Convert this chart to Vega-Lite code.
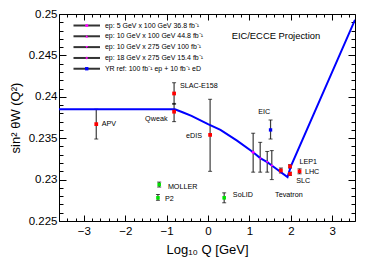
{
  "$schema": "https://vega.github.io/schema/vega-lite/v6.json",
  "width": 296,
  "height": 207,
  "autosize": {"type": "none"},
  "padding": {"left": 59, "top": 14, "right": 19, "bottom": 44},
  "background": "white",
  "config": {
    "font": "Liberation Sans",
    "view": {"stroke": "black", "strokeWidth": 1},
    "axis": {"domain": false, "grid": false, "tickColor": "black", "labelColor": "black", "titleColor": "black", "labelFont": "Liberation Sans", "titleFont": "Liberation Sans", "titleFontWeight": "normal", "labelOverlap": false, "labelFlush": false}
  },
  "datasets": {
    "curve": [
      {"lq": -3.6, "s2w": 0.2385}, {"lq": -0.8, "s2w": 0.2385}, {"lq": -0.6, "s2w": 0.2381},
      {"lq": -0.4, "s2w": 0.2377}, {"lq": 0.0, "s2w": 0.2367}, {"lq": 0.3, "s2w": 0.2360},
      {"lq": 0.7, "s2w": 0.2347}, {"lq": 1.09, "s2w": 0.2333}, {"lq": 1.26, "s2w": 0.2326},
      {"lq": 1.43, "s2w": 0.2321}, {"lq": 1.54, "s2w": 0.2317}, {"lq": 1.92, "s2w": 0.2303},
      {"lq": 2.0, "s2w": 0.2316}, {"lq": 3.55, "s2w": 0.2493}
    ],
    "points": [
      {"name": "APV", "group": "world", "lq": -2.70, "s2w": 0.2367, "lo": 0.2349, "hi": 0.2385},
      {"name": "Qweak", "group": "world", "lq": -0.82, "s2w": 0.2382, "lo": 0.2370, "hi": 0.2392},
      {"name": "SLAC-E158", "group": "world", "lq": -0.82, "s2w": 0.2404, "lo": 0.2391, "hi": 0.2417},
      {"name": "eDIS", "group": "world", "lq": 0.05, "s2w": 0.2354, "lo": 0.2310, "hi": 0.2397},
      {"name": "Tevatron", "group": "world", "lq": 1.76, "s2w": 0.2311, "lo": 0.2308, "hi": 0.2314},
      {"name": "LEP1", "group": "world", "lq": 1.98, "s2w": 0.2316, "lo": 0.2314, "hi": 0.2318},
      {"name": "SLC", "group": "world", "lq": 1.98, "s2w": 0.2307, "lo": 0.2305, "hi": 0.2309},
      {"name": "LHC", "group": "world", "lq": 2.21, "s2w": 0.2310, "lo": 0.2307, "hi": 0.2313},
      {"name": "MOLLER", "group": "future", "lq": -1.18, "s2w": 0.2294, "lo": 0.2291, "hi": 0.2297},
      {"name": "P2", "group": "future", "lq": -1.21, "s2w": 0.2278, "lo": 0.2275, "hi": 0.2282},
      {"name": "SoLID", "group": "future", "lq": 0.39, "s2w": 0.2278, "lo": 0.2272, "hi": 0.2284},
      {"name": "EIC YR", "group": "YR", "lq": 1.51, "s2w": 0.2360, "lo": 0.2349, "hi": 0.2372},
      {"name": "5x100", "group": "ep5x100", "lq": 1.09, "s2w": 0.2333, "lo": 0.2309, "hi": 0.2356},
      {"name": "10x100", "group": "ep10x100", "lq": 1.26, "s2w": 0.2326, "lo": 0.2309, "hi": 0.2345},
      {"name": "10x275", "group": "ep10x275", "lq": 1.43, "s2w": 0.2321, "lo": 0.2309, "hi": 0.2334},
      {"name": "18x275", "group": "ep18x275", "lq": 1.54, "s2w": 0.2317, "lo": 0.2300, "hi": 0.2335}
    ],
    "labels": [
      {"text": "APV", "lq": -2.57, "s2w": 0.23671},
      {"text": "Qweak", "lq": -1.52, "s2w": 0.23728},
      {"text": "SLAC-E158", "lq": -0.68, "s2w": 0.24130},
      {"text": "eDIS", "lq": -0.53, "s2w": 0.23527},
      {"text": "EIC", "lq": 1.21, "s2w": 0.23816},
      {"text": "MOLLER", "lq": -0.97, "s2w": 0.22914},
      {"text": "P2", "lq": -1.04, "s2w": 0.22766},
      {"text": "SoLID", "lq": 0.60, "s2w": 0.22814},
      {"text": "Tevatron", "lq": 1.62, "s2w": 0.22814},
      {"text": "LEP1", "lq": 2.21, "s2w": 0.23216},
      {"text": "LHC", "lq": 2.34, "s2w": 0.23095},
      {"text": "SLC", "lq": 2.13, "s2w": 0.22987}
    ],
    "legend": [
      {"group": "ep5x100", "label": "ep: 5 GeV x 100 GeV 36.8 fb⁻¹", "ly": 0.24861},
      {"group": "ep10x100", "label": "ep: 10 GeV x 100 GeV 44.8 fb⁻¹", "ly": 0.24731},
      {"group": "ep10x275", "label": "ep: 10 GeV x 275 GeV 100 fb⁻¹", "ly": 0.24600},
      {"group": "ep18x275", "label": "ep: 18 GeV x 275 GeV 15.4 fb⁻¹", "ly": 0.24469},
      {"group": "YR", "label": "YR ref: 100 fb⁻¹ ep + 10 fb⁻¹ eD", "ly": 0.24339}
    ]
  },
  "layer": [
    {
      "data": {"name": "points"},
      "mark": {"type": "rule", "color": "#3c3c3c", "strokeWidth": 1.2},
      "encoding": {
        "x": {"field": "lq", "type": "quantitative", "scale": {"domain": [-3.6, 3.55], "nice": false, "zero": false},
          "axis": {"orient": "top", "labels": false, "title": null,
            "values": [-3.6,-3.4,-3.2,-3,-2.8,-2.6,-2.4,-2.2,-2,-1.8,-1.6,-1.4,-1.2,-1,-0.8,-0.6,-0.4,-0.2,0,0.2,0.4,0.6,0.8,1,1.2,1.4,1.6,1.8,2,2.2,2.4,2.6,2.8,3,3.2,3.4],
            "tickSize": {"condition": {"test": "abs(datum.value - round(datum.value)) < 0.01", "value": -6}, "value": -3}}},
        "y": {"field": "lo", "type": "quantitative", "scale": {"domain": [0.225, 0.25], "nice": false, "zero": false},
          "axis": {"orient": "right", "labels": false, "title": null,
            "values": [0.225,0.226,0.227,0.228,0.229,0.23,0.231,0.232,0.233,0.234,0.235,0.236,0.237,0.238,0.239,0.24,0.241,0.242,0.243,0.244,0.245,0.246,0.247,0.248,0.249,0.25],
            "tickSize": {"condition": {"test": "abs(datum.value*200 - round(datum.value*200)) < 0.01", "value": -7}, "value": -4}}},
        "y2": {"field": "hi"}
      }
    },
    {
      "data": {"name": "points"},
      "mark": {"type": "tick", "orient": "horizontal", "size": 4, "thickness": 1, "color": "black"},
      "encoding": {
        "x": {"field": "lq", "type": "quantitative", "axis": null},
        "y": {"field": "lo", "type": "quantitative", "axis": null}
      }
    },
    {
      "data": {"name": "points"},
      "mark": {"type": "tick", "orient": "horizontal", "size": 4, "thickness": 1, "color": "black"},
      "encoding": {
        "x": {"field": "lq", "type": "quantitative", "axis": null},
        "y": {"field": "hi", "type": "quantitative", "axis": null}
      }
    },
    {
      "data": {"name": "curve"},
      "mark": {"type": "line", "color": "#0000ff", "strokeWidth": 2, "clip": true},
      "encoding": {
        "x": {"field": "lq", "type": "quantitative",
          "axis": {"orient": "bottom", "title": "Log₁₀ Q [GeV]", "titleFontSize": 13, "labelFontSize": 11.5, "labelPadding": 10, "titlePadding": 4,
            "values": [-3.6,-3.4,-3.2,-3,-2.8,-2.6,-2.4,-2.2,-2,-1.8,-1.6,-1.4,-1.2,-1,-0.8,-0.6,-0.4,-0.2,0,0.2,0.4,0.6,0.8,1,1.2,1.4,1.6,1.8,2,2.2,2.4,2.6,2.8,3,3.2,3.4],
            "labelExpr": "abs(datum.value - round(datum.value)) < 0.01 ? format(datum.value, 'd') : ''",
            "tickSize": {"condition": {"test": "abs(datum.value - round(datum.value)) < 0.01", "value": -6}, "value": -3}}},
        "y": {"field": "s2w", "type": "quantitative",
          "axis": {"orient": "left", "title": "sin² θW (Q²)", "titleFontSize": 13, "labelFontSize": 11.5, "labelPadding": 9, "titlePadding": 6,
            "values": [0.225,0.226,0.227,0.228,0.229,0.23,0.231,0.232,0.233,0.234,0.235,0.236,0.237,0.238,0.239,0.24,0.241,0.242,0.243,0.244,0.245,0.246,0.247,0.248,0.249,0.25],
            "labelExpr": "abs(datum.value*200 - round(datum.value*200)) < 0.01 ? format(datum.value, '~g') : ''",
            "tickSize": {"condition": {"test": "abs(datum.value*200 - round(datum.value*200)) < 0.01", "value": -7}, "value": -4}}}
      }
    },
    {
      "data": {"name": "points"},
      "mark": {"type": "point", "filled": true, "opacity": 1},
      "encoding": {
        "x": {"field": "lq", "type": "quantitative", "axis": null},
        "y": {"field": "s2w", "type": "quantitative", "axis": null},
        "color": {"field": "group", "type": "nominal", "legend": null,
          "scale": {"domain": ["world","future","YR","ep5x100","ep10x100","ep10x275","ep18x275"], "range": ["#ff0000","#00e000","#0000ff","#ff00ff","#ff00ff","#ff00ff","#ff00ff"]}},
        "shape": {"field": "group", "type": "nominal", "legend": null,
          "scale": {"domain": ["world","future","YR","ep5x100","ep10x100","ep10x275","ep18x275"], "range": ["square","square","square","circle","triangle-up","triangle-down","cross"]}},
        "size": {"field": "group", "type": "nominal", "legend": null,
          "scale": {"domain": ["world","future","YR","ep5x100","ep10x100","ep10x275","ep18x275"], "range": [14, 6, 10, 22, 30, 30, 30]}}
      }
    },
    {
      "data": {"name": "labels"},
      "mark": {"type": "text", "align": "left", "baseline": "middle", "fontSize": 7.2, "color": "black"},
      "encoding": {
        "x": {"field": "lq", "type": "quantitative", "axis": null},
        "y": {"field": "s2w", "type": "quantitative", "axis": null},
        "text": {"field": "text"}
      }
    },
    {
      "data": {"values": [{"text": "EIC/ECCE Projection", "lq": 0.57, "s2w": 0.24734}]},
      "mark": {"type": "text", "align": "left", "baseline": "middle", "fontSize": 9.4, "color": "black"},
      "encoding": {
        "x": {"field": "lq", "type": "quantitative", "axis": null},
        "y": {"field": "s2w", "type": "quantitative", "axis": null},
        "text": {"field": "text"}
      }
    },
    {
      "data": {"name": "legend"},
      "mark": {"type": "rule", "color": "#333333", "strokeWidth": 2},
      "encoding": {
        "x": {"datum": -3.25, "type": "quantitative", "axis": null},
        "x2": {"datum": -2.61},
        "y": {"field": "ly", "type": "quantitative", "axis": null}
      }
    },
    {
      "data": {"name": "legend"},
      "mark": {"type": "point", "filled": true, "opacity": 1},
      "encoding": {
        "x": {"datum": -2.93, "type": "quantitative", "axis": null},
        "y": {"field": "ly", "type": "quantitative", "axis": null},
        "color": {"field": "group", "type": "nominal", "legend": null},
        "shape": {"field": "group", "type": "nominal", "legend": null},
        "size": {"field": "group", "type": "nominal", "legend": null}
      }
    },
    {
      "data": {"name": "legend"},
      "mark": {"type": "text", "align": "left", "baseline": "middle", "fontSize": 7, "color": "black"},
      "encoding": {
        "x": {"datum": -2.49, "type": "quantitative", "axis": null},
        "y": {"field": "ly", "type": "quantitative", "axis": null},
        "text": {"field": "label"}
      }
    }
  ],
  "resolve": {"axis": {"x": "independent", "y": "independent"}}
}
